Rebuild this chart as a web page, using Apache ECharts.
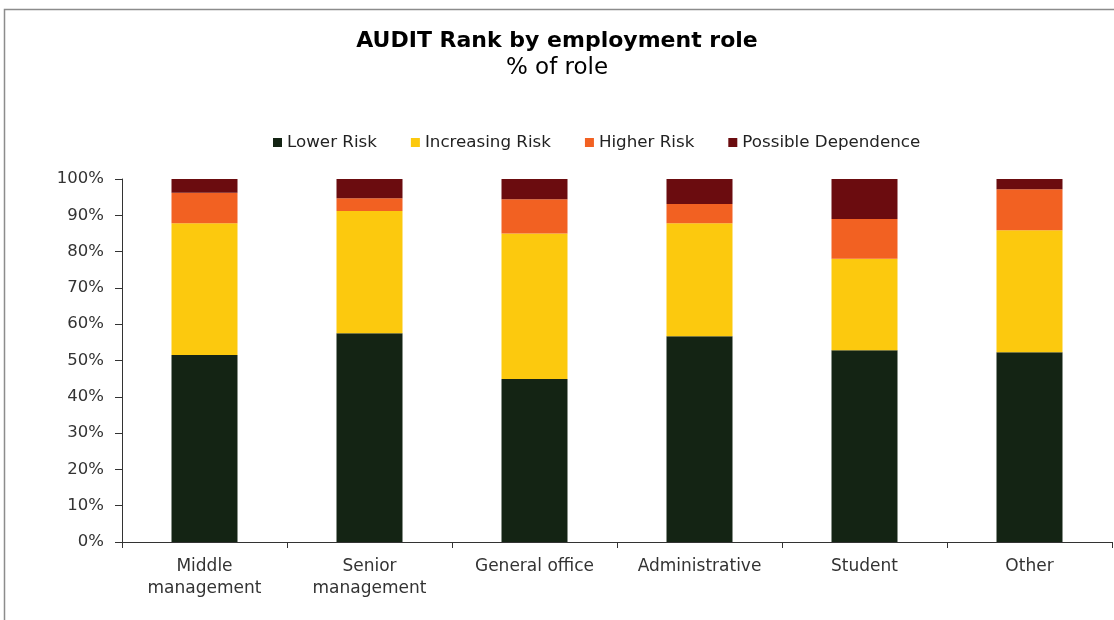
<!DOCTYPE html>
<html>
<head>
<meta charset="utf-8">
<script src="https://cdn.jsdelivr.net/npm/echarts@6/dist/echarts.min.js"></script>
<style>
  html, body { margin: 0; padding: 0; background: #ffffff; }
  #chart { width: 1114px; height: 620px; }
</style>
</head>
<body>
<div id="chart"></div>
<script>
// Employment roles along the x axis
const roles = ['Middle\nmanagement', 'Senior\nmanagement', 'General office', 'Administrative', 'Student', 'Other'];

// Share of each role (%) in each AUDIT risk band
const lowerRisk          = [51.5, 57.5, 44.9, 56.7, 52.8, 52.3];
const increasingRisk     = [36.3, 33.7, 40.1, 31.1, 25.2, 33.6];
const higherRisk         = [ 8.4,  3.5,  9.4,  5.3, 11.0, 11.3];
const possibleDependence = [ 3.8,  5.3,  5.6,  6.9, 11.0,  2.8];

const bandNames = ['Lower Risk', 'Increasing Risk', 'Higher Risk', 'Possible Dependence'];
const bandValues = [lowerRisk, increasingRisk, higherRisk, possibleDependence];
const bandColors = ['#142414', '#fcc90e', '#f26122', '#6b0c0f'];

const font = 'DejaVu Sans';

const chart = echarts.init(document.getElementById('chart'), null, { renderer: 'canvas' });

chart.setOption({
  animation: false,
  backgroundColor: '#ffffff',
  graphic: [{
    type: 'rect',
    shape: { x: 4.5, y: 9.5, width: 1300, height: 800 },
    style: { fill: 'none', stroke: '#8c8c8c', lineWidth: 1.5 },
    silent: true
  }],
  title: {
    text: 'AUDIT Rank by employment role',
    subtext: '% of role',
    left: 'center',
    top: 25,
    itemGap: 5,
    textStyle: { fontFamily: font, fontSize: 22, fontWeight: 'bold', color: '#000000' },
    subtextStyle: { fontFamily: font, fontSize: 23, color: '#000000' }
  },
  legend: {
    data: bandNames,
    left: 268,
    top: 129,
    itemWidth: 9,
    itemHeight: 9,
    itemGap: 34,
    icon: 'rect',
    textStyle: { fontFamily: font, fontSize: 16.7, color: '#222222' }
  },
  grid: { left: 122, right: 2, top: 179, bottom: 78, containLabel: false },
  xAxis: {
    type: 'category',
    data: roles,
    axisLine: { lineStyle: { color: '#333333', width: 1 } },
    axisTick: { show: true, length: 6, lineStyle: { color: '#333333' } },
    axisLabel: {
      fontFamily: font, fontSize: 17, color: '#333333',
      margin: 14, lineHeight: 22, interval: 0
    },
    splitLine: { show: false }
  },
  yAxis: {
    type: 'value',
    min: 0,
    max: 100,
    interval: 10,
    axisLine: { show: true, lineStyle: { color: '#333333', width: 1 } },
    axisTick: { show: true, length: 7, lineStyle: { color: '#333333' } },
    axisLabel: {
      fontFamily: font, fontSize: 16.5, color: '#333333',
      margin: 18, formatter: '{value}%'
    },
    splitLine: { show: false }
  },
  series: bandNames.map((name, i) => ({
    name: name,
    type: 'bar',
    stack: 'share',
    barWidth: '40%',
    data: bandValues[i],
    itemStyle: { color: bandColors[i] }
  }))
});
</script>
</body>
</html>
